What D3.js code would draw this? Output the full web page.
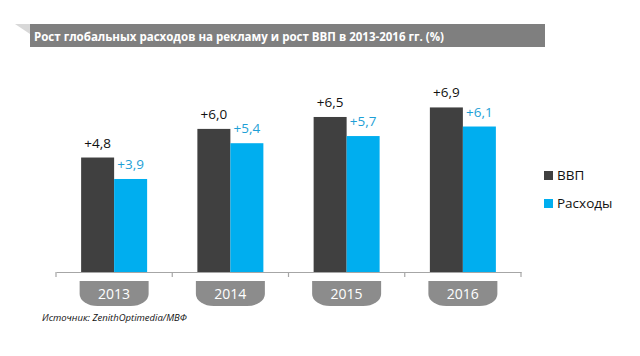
<!DOCTYPE html>
<html><head><meta charset="utf-8">
<script src="https://cdn.jsdelivr.net/npm/d3@7"></script>
<style>html,body{margin:0;padding:0;background:#fff;}svg{display:block;}</style>
</head><body>
<svg id="c" width="640" height="356"></svg>
<script>
const years = ["2013","2014","2015","2016"];
const seriesNames = ["ВВП","Расходы"];
const gdp = [4.8, 6.0, 6.5, 6.9];
const adSpend = [3.9, 5.4, 5.7, 6.1];
const titleText = "Рост глобальных расходов на рекламу и рост ВВП в 2013-2016 гг. (%)";
const sourceText = "Источник: ZenithOptimedia/МВФ";

const colors = ["#404040", "#00aeef"];
const labelColors = ["#111111", "#1e9fd6"];
const font = "'Open Sans', 'DejaVu Sans', sans-serif";

const svg = d3.select("#c");

// Title banner
svg.append("path").attr("d", "M15,24 L30,24 L30,34 Z").attr("fill", "#d8d8d8");
svg.append("rect").attr("x", 30).attr("y", 24).attr("width", 515).attr("height", 23).attr("fill", "#7f7f7f");
svg.append("text").attr("x", 34).attr("y", 40.5).attr("fill", "#fff")
  .attr("font-family", font).attr("font-weight", "bold").attr("font-size", 12.5)
  .attr("textLength", 410).attr("lengthAdjust", "spacingAndGlyphs")
  .text(titleText);

const x = d3.scaleBand().domain(years).range([56, 521]);
const inner = d3.scaleBand().domain([0,1]).range([0, 66]);
const y = d3.scaleLinear().domain([0, 8]).range([272, 81.2]);

const data = years.map((yr, i) => ({yr, vals: [gdp[i], adSpend[i]]}));

const g = svg.append("g");
data.forEach(d => {
  const cx = x(d.yr) + x.bandwidth() / 2;
  d.vals.forEach((v, s) => {
    const bx = cx - 33 + inner(s);
    g.append("rect").attr("x", bx).attr("y", y(v)).attr("width", inner.bandwidth())
      .attr("height", y(0) - y(v)).attr("fill", colors[s]);
    g.append("text").attr("x", bx + inner.bandwidth() / 2).attr("y", y(v) - 10)
      .attr("text-anchor", "middle").attr("font-family", font).attr("font-size", 13.5)
      .attr("fill", labelColors[s]).text("+" + d3.format(".1f")(v).replace(".", ","));
  });
});

// Axis
const axis = d3.axisBottom(x).tickValues([]).tickSize(0).tickSizeOuter(0);
const ax = svg.append("g").attr("transform", "translate(0,272)").call(axis);
ax.select(".domain").attr("stroke", "#a6a6a6").attr("stroke-width", 1.2);
const tickPos = [56].concat(years.map(yy => x(yy) + x.bandwidth()));
ax.selectAll("line.tk").data(tickPos).enter().append("line").attr("class", "tk")
  .attr("x1", d => d).attr("x2", d => d).attr("y1", 0).attr("y2", 5)
  .attr("stroke", "#a6a6a6").attr("stroke-width", 1.2);

// Year tabs
years.forEach(yr => {
  const cx = x(yr) + x.bandwidth() / 2;
  const w = 69, top = 281, bot = 306, rx = 18, ry = 12;
  const l = cx - w / 2, r = cx + w / 2;
  const p = `M${l},${top} L${r},${top} L${r},${bot - ry} A${rx},${ry} 0 0 1 ${r - rx},${bot} L${l + rx},${bot} A${rx},${ry} 0 0 1 ${l},${bot - ry} Z`;
  svg.append("path").attr("d", p).attr("fill", "#8c8c8c");
  svg.append("text").attr("x", cx).attr("y", 298.5).attr("text-anchor", "middle")
    .attr("font-family", font).attr("font-size", 14).attr("fill", "#fff").text(yr);
});

// Legend
seriesNames.forEach((n, i) => {
  const ly = 171 + i * 28;
  svg.append("rect").attr("x", 544).attr("y", ly).attr("width", 9).attr("height", 9).attr("fill", colors[i]);
  svg.append("text").attr("x", 557).attr("y", ly + 9).attr("font-family", font)
    .attr("font-size", 13.5).attr("fill", "#111").text(n);
});

// Source
svg.append("text").attr("x", 42).attr("y", 321).attr("font-family", font)
  .attr("font-style", "italic").attr("font-size", 9.5).attr("fill", "#111").text(sourceText);
</script>
</body></html>
